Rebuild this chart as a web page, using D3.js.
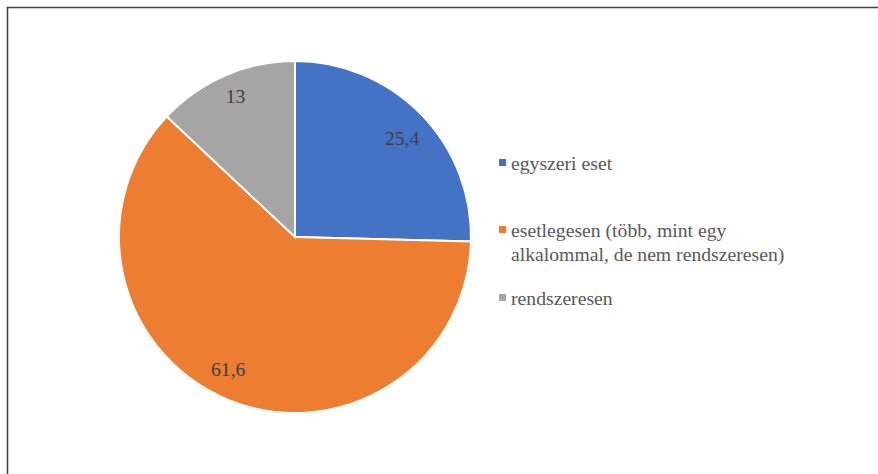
<!DOCTYPE html>
<html>
<head>
<meta charset="utf-8">
<script src="https://cdn.jsdelivr.net/npm/d3@7"></script>
<style>
  body { margin: 0; background: #fff; }
  svg { display: block; }
</style>
</head>
<body>
<svg id="chart" width="878" height="474"></svg>
<script>
// Chart data
const categories = ['egyszeri eset', 'esetlegesen (több, mint egy alkalommal, de nem rendszeresen)', 'rendszeresen'];
const values = [25.4, 61.6, 13];
const valueLabels = ['25,4', '61,6', '13'];
const legendLines = [['egyszeri eset'], ['esetlegesen (több, mint egy', 'alkalommal, de nem rendszeresen)'], ['rendszeresen']];
const colors = ['#4472C4', '#ED7D31', '#A5A5A5'];

const fontFamily = "'Liberation Serif', 'Times New Roman', serif";
const fontSize = 19.7;
const svg = d3.select('#chart');

// Outer frame (runs off the right and bottom edge)
svg.append('rect')
  .attr('x', 7.5)
  .attr('y', 7.5)
  .attr('width', 900)
  .attr('height', 500)
  .attr('fill', 'none')
  .attr('stroke', '#404040')
  .attr('stroke-width', 1.5);

const cx = 295;
const cy = 237;
const radius = 176;

const pie = d3.pie().sort(null).value(d => d);
const arc = d3.arc().innerRadius(0).outerRadius(radius);
const labelArc = d3.arc().innerRadius(radius * 0.85).outerRadius(radius * 0.85);

const g = svg.append('g').attr('transform', `translate(${cx},${cy})`);
const arcs = pie(values);

g.selectAll('.slice')
  .data(arcs)
  .enter().append('path')
  .attr('class', 'slice')
  .attr('d', arc)
  .attr('fill', (d, i) => colors[i])
  .attr('stroke', '#fff')
  .attr('stroke-width', 2);

// Data labels, with a little best-fit nudge like the original
const nudge = [[0, 6], [-10, -6], [0, -4]];
g.selectAll('.label')
  .data(arcs)
  .enter().append('text')
  .attr('class', 'label')
  .attr('transform', (d, i) => {
    const [x, y] = labelArc.centroid(d);
    return `translate(${x + nudge[i][0]},${y + nudge[i][1]})`;
  })
  .attr('text-anchor', 'middle')
  .attr('dy', '0.35em')
  .attr('font-family', fontFamily)
  .attr('font-size', fontSize)
  .attr('fill', '#404040')
  .text((d, i) => valueLabels[i]);

// Legend
const legendY = [163, 230, 298];
const legend = svg.append('g').attr('class', 'legend');
categories.forEach((c, i) => {
  legend.append('rect')
    .attr('x', 499)
    .attr('y', legendY[i] - 4)
    .attr('width', 7)
    .attr('height', 7)
    .attr('fill', colors[i]);
  const t = legend.append('text')
    .attr('x', 511)
    .attr('y', legendY[i])
    .attr('font-family', fontFamily)
    .attr('font-size', fontSize)
    .attr('fill', '#595959');
  legendLines[i].forEach((line, j) => {
    t.append('tspan')
      .attr('x', 511)
      .attr('dy', j === 0 ? '0.35em' : '1.2em')
      .text(line);
  });
});
</script>
</body>
</html>
